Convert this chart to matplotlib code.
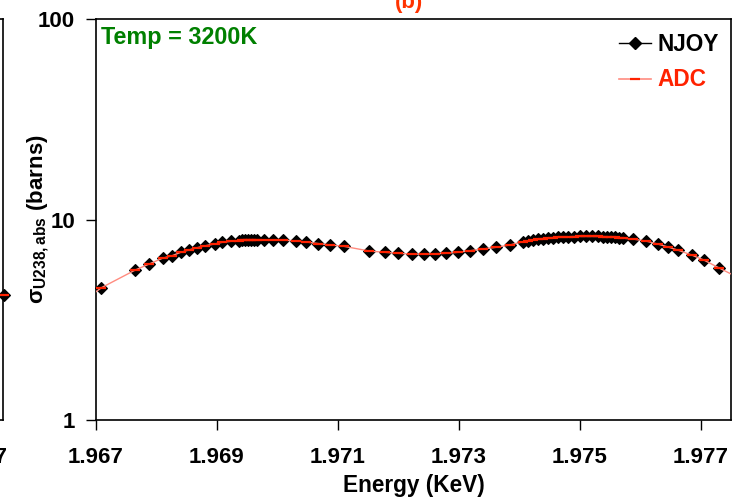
import matplotlib
matplotlib.use('Agg')
import matplotlib.pyplot as plt
from matplotlib.lines import Line2D
from matplotlib.ticker import FixedLocator, FuncFormatter, NullLocator

plt.rcParams['font.family'] = ['Liberation Sans', 'DejaVu Sans']
plt.rcParams['font.weight'] = 'bold'
plt.rcParams['mathtext.fontset'] = 'custom'
plt.rcParams['mathtext.rm'] = 'Liberation Sans:bold'
plt.rcParams['mathtext.bf'] = 'Liberation Sans:bold'
plt.rcParams['mathtext.it'] = 'Liberation Sans:bold'

# U-238 absorption cross section at 3200 K (panel b)
energy_njoy = [
    1.96709, 1.96765, 1.96788, 1.96810, 1.96826, 1.96840, 1.96853, 1.96867,
    1.96881, 1.96896, 1.96909, 1.96924, 1.96936, 1.96941, 1.96946, 1.96951,
    1.96956, 1.96961, 1.96966, 1.96977, 1.96993, 1.97010, 1.97031, 1.97048,
    1.97067, 1.97087, 1.97110, 1.97152, 1.97178, 1.97200, 1.97222, 1.97243,
    1.97260, 1.97278, 1.97298, 1.97319, 1.97340, 1.97362, 1.97384, 1.97406,
    1.97414, 1.97422, 1.97431, 1.97439, 1.97447, 1.97455, 1.97464, 1.97472,
    1.97480, 1.97490, 1.97500, 1.97510, 1.97520, 1.97530, 1.97538, 1.97545,
    1.97551, 1.97558, 1.97565, 1.97571, 1.97588, 1.97610, 1.97630, 1.97646,
    1.97663, 1.97685, 1.97705, 1.97730,
]
sigma_njoy = [
    4.57, 5.60, 6.00, 6.41, 6.60, 6.86, 7.04, 7.23,
    7.40, 7.55, 7.70, 7.79, 7.84, 7.86, 7.88, 7.89,
    7.90, 7.90, 7.90, 7.90, 7.90, 7.89, 7.82, 7.72,
    7.59, 7.47, 7.35, 6.96, 6.86, 6.78, 6.73, 6.71,
    6.75, 6.78, 6.86, 6.99, 7.13, 7.27, 7.46, 7.75,
    7.83, 7.90, 7.97, 8.03, 8.08, 8.12, 8.15, 8.18,
    8.20, 8.22, 8.23, 8.23, 8.23, 8.23, 8.22, 8.21,
    8.19, 8.16, 8.12, 8.07, 7.99, 7.80, 7.53, 7.29,
    7.02, 6.65, 6.28, 5.74,
]
# ADC fit evaluated on the same grid, extended to the plot edges
energy_adc = [1.96700, *energy_njoy, 1.97750]
sigma_adc = [4.36, *sigma_njoy, 5.35]

# edge of the neighbouring panel (a)
energy_a = [1.97739]
sigma_a = [4.20]

xticks = [1.967, 1.969, 1.971, 1.973, 1.975, 1.977]
yticks = [1, 10, 100]

ADC_LINE = '#FF8C80'
ADC_MARK = '#FF2200'
DIAMOND_MS = 6.6

W, H = 732, 497
fig = plt.figure(figsize=(W / 100, H / 100), dpi=100)


def px_rect(left, top, right, bottom):
    return [left / W, 1 - bottom / H, (right - left) / W, (bottom - top) / H]


def style_axes(a, xlim):
    a.set_yscale('log')
    a.set_ylim(1, 100)
    a.set_xlim(*xlim)
    a.xaxis.set_major_locator(FixedLocator(xticks))
    a.xaxis.set_major_formatter(FuncFormatter(lambda v, p: f'{v:.3f}'))
    a.yaxis.set_major_locator(FixedLocator(yticks))
    a.yaxis.set_major_formatter(FuncFormatter(lambda v, p: f'{v:g}'))
    a.yaxis.set_minor_locator(NullLocator())
    a.xaxis.set_minor_locator(NullLocator())
    a.tick_params(axis='x', direction='out', length=7, width=1.0,
                  labelsize=16, pad=12.5)
    a.tick_params(axis='y', direction='out', length=7, width=1.0,
                  labelsize=16, pad=8)
    for s in a.spines.values():
        s.set_linewidth(1.2)


# neighbouring panel, mostly outside the canvas
axa = fig.add_axes(px_rect(3 - 635, 19, 3, 420))
style_axes(axa, (1.96688, 1.97738))
axa.plot(energy_a, sigma_a, linestyle='none', marker='D', ms=DIAMOND_MS,
         mfc='black', mec='black', mew=0.8, clip_on=False, zorder=3)
axa.plot(energy_a, sigma_a, linestyle='none', marker='_', ms=7, mec=ADC_MARK,
         mew=1.6, clip_on=False, zorder=4)

ax = fig.add_axes(px_rect(96, 19, 731, 420))
style_axes(ax, (1.967, 1.9775))

ax.plot(energy_njoy, sigma_njoy, linestyle='none', marker='D', ms=DIAMOND_MS,
        mfc='black', mec='black', mew=0.8, clip_on=False, zorder=3)
ax.plot(energy_adc, sigma_adc, color=ADC_LINE, lw=1.0, marker='_', ms=7,
        mec=ADC_MARK, mew=1.6, markevery=slice(1, -1), zorder=4)

ax.set_xlabel('Energy (KeV)', fontsize=16.3, fontweight='bold', labelpad=4)
ax.set_ylabel(r'σ$_{\mathbf{U238,abs}}$ (barns)', fontsize=16,
              fontweight='bold')
ax.yaxis.set_label_coords(-0.071, 0.5)

ax.text(0.008, 0.955, 'Temp = 3200K', transform=ax.transAxes, fontsize=16.8,
        fontweight='bold', color='#008000', ha='left', va='center')

handles = [
    Line2D([], [], color='black', lw=1.0, marker='D', ms=DIAMOND_MS,
           mfc='black', mec='black'),
    Line2D([], [], color=ADC_LINE, lw=1.2, marker='_', ms=7, mec=ADC_MARK,
           mew=1.6),
]
leg = ax.legend(handles, ['NJOY', 'ADC'], loc='upper left',
                bbox_to_anchor=(0.8236, 0.965), frameon=False, fontsize=16.3,
                borderpad=0, borderaxespad=0, handlelength=1.4,
                handletextpad=0.3, labelspacing=0.55)
for txt, col in zip(leg.get_texts(), ['black', ADC_MARK]):
    txt.set_color(col)
    txt.set_fontweight('bold')

fig.text(409 / W, 1 - 13 / H, '(b)', ha='center', va='bottom',
         color='#FF3300', fontsize=16, fontweight='bold')

fig.savefig('out.png', dpi=100)
